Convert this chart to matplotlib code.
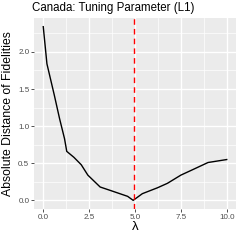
import matplotlib
matplotlib.use("Agg")
import matplotlib.pyplot as plt
import numpy as np

plt.rcParams['font.family'] = ['Liberation Sans', 'DejaVu Sans']

lam = [0.0, 0.2, 0.6, 0.89, 1.16, 1.28, 1.67, 2.07, 2.43, 3.1, 3.7, 4.6, 4.9, 5.4, 6.23, 6.77, 7.5, 8.2, 8.98, 10.0]
dist = [2.34, 1.84, 1.42, 1.10, 0.83, 0.66, 0.58, 0.48, 0.34, 0.18, 0.13, 0.054, 0.0, 0.09, 0.17, 0.23, 0.34, 0.42, 0.51, 0.55]
best_lambda = 4.93
title = "Canada: Tuning Parameter (L1)"
xlabel = "λ"
ylabel = "Absolute Distance of Fidelities"
xticks = [0.0, 2.5, 5.0, 7.5, 10.0]
yticks = [0.0, 0.5, 1.0, 1.5, 2.0]

fig = plt.figure(figsize=(2.4, 2.4), dpi=100)
ax = fig.add_axes([0.142, 0.129, 0.841, 0.796])
ax.set_facecolor("#EBEBEB")
for s in ax.spines.values():
    s.set_visible(False)

xmin, xmax = min(lam), max(lam)
ymin, ymax = min(dist), max(dist)
xr = xmax - xmin; yr = ymax - ymin
ax.set_xlim(xmin - 0.05 * xr, xmax + 0.05 * xr)
ax.set_ylim(ymin - 0.05 * yr, ymax + 0.05 * yr)

for v in np.arange(1.25, 10, 2.5):
    ax.axvline(v, color="white", lw=0.5, zorder=0)
for v in np.arange(0.25, 2.4, 0.5):
    ax.axhline(v, color="white", lw=0.5, zorder=0)
for v in xticks:
    ax.axvline(v, color="white", lw=1.0, zorder=0)
for v in yticks:
    ax.axhline(v, color="white", lw=1.0, zorder=0)

ax.plot(lam, dist, color="black", lw=1.0, zorder=2)
ax.axvline(best_lambda, color="red", lw=1.0, ls=(0, (4, 3)), zorder=3)

ax.set_xticks(xticks)
ax.set_xticklabels([f"{v:.1f}" for v in xticks])
ax.set_yticks(yticks)
ax.set_yticklabels([f"{v:.1f}" for v in yticks])
ax.tick_params(axis="both", length=2.2, width=0.6, color="#333333", labelsize=5.8,
               labelcolor="#4D4D4D", pad=1.2)

ax.set_xlabel(xlabel, fontsize=9.5, labelpad=0, color="black")
ax.set_ylabel(ylabel, fontsize=8.8, labelpad=3, color="black")
ax.set_title(title, fontsize=8.3, loc="left", x=-0.01, pad=5, color="black")

fig.savefig("out.png", dpi=100)
